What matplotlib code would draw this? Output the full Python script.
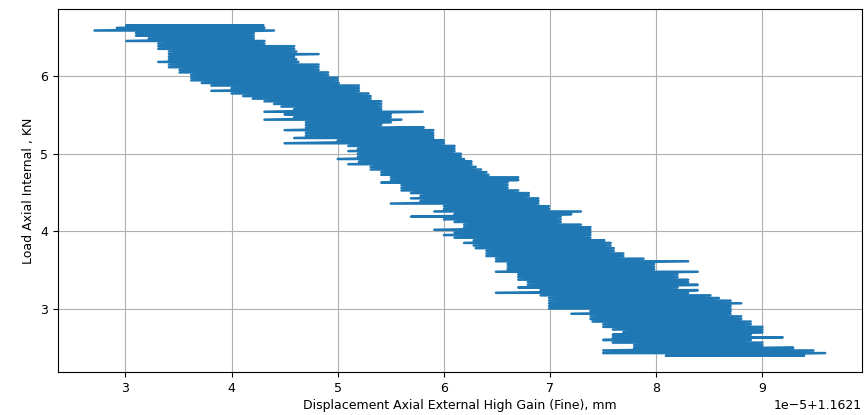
import numpy as np
import matplotlib
matplotlib.use("Agg")
import matplotlib.pyplot as plt

# load levels (kN), top to bottom, and the left/right displacement reached on each level
# displacement given in units of 1e-5 mm above 1.1621 mm
load = [6.654, 6.620, 6.586, 6.553, 6.519, 6.485, 6.451, 6.417, 6.384, 6.350,
        6.316, 6.282, 6.248, 6.215, 6.181, 6.147, 6.113, 6.079, 6.046, 6.012,
        5.978, 5.944, 5.910, 5.877, 5.843, 5.809, 5.775, 5.741, 5.708, 5.674,
        5.640, 5.606, 5.572, 5.539, 5.505, 5.471, 5.437, 5.403, 5.370, 5.336,
        5.302, 5.268, 5.234, 5.201, 5.167, 5.133, 5.099, 5.065, 5.032, 4.998,
        4.964, 4.930, 4.896, 4.863, 4.829, 4.795, 4.761, 4.727, 4.694, 4.660,
        4.626, 4.592, 4.558, 4.525, 4.491, 4.457, 4.423, 4.389, 4.356, 4.322,
        4.288, 4.254, 4.220, 4.187, 4.153, 4.119, 4.085, 4.051, 4.018, 3.984,
        3.950, 3.916, 3.882, 3.849, 3.815, 3.781, 3.747, 3.713, 3.680, 3.646,
        3.612, 3.578, 3.544, 3.511, 3.477, 3.443, 3.409, 3.375, 3.342, 3.308,
        3.274, 3.240, 3.206, 3.173, 3.139, 3.105, 3.071, 3.037, 3.004, 2.970,
        2.936, 2.902, 2.868, 2.835, 2.801, 2.767, 2.733, 2.699, 2.666, 2.632,
        2.598, 2.564, 2.530, 2.497, 2.463, 2.429, 2.395]

disp_left = [3.01, 2.92, 2.71, 3.10, 3.10, 3.22, 3.01, 3.31, 3.31, 3.31,
             3.41, 3.41, 3.41, 3.41, 3.31, 3.41, 3.41, 3.51, 3.51, 3.62,
             3.62, 3.62, 3.72, 3.81, 4.00, 3.81, 4.00, 4.11, 4.20, 4.31,
             4.40, 4.47, 4.59, 4.31, 4.50, 4.59, 4.31, 4.70, 4.70, 4.70,
             4.50, 4.70, 4.70, 4.59, 5.00, 4.50, 5.10, 5.19, 5.10, 5.19,
             5.19, 5.00, 5.20, 5.10, 5.31, 5.31, 5.41, 5.41, 5.50, 5.50,
             5.41, 5.60, 5.60, 5.60, 5.69, 5.78, 5.69, 5.78, 5.50, 6.00,
             6.00, 5.91, 6.10, 5.69, 6.00, 6.10, 6.19, 6.19, 5.91, 6.10,
             6.00, 6.10, 6.28, 6.19, 6.28, 6.30, 6.40, 6.40, 6.40, 6.49,
             6.49, 6.60, 6.60, 6.60, 6.49, 6.70, 6.70, 6.70, 6.79, 6.79,
             6.70, 6.91, 6.49, 6.91, 6.99, 6.99, 6.99, 6.99, 6.99, 7.38,
             7.20, 7.38, 7.38, 7.40, 7.50, 7.50, 7.59, 7.69, 7.59, 7.59,
             7.50, 7.59, 7.79, 7.79, 7.50, 7.50, 8.09]

disp_right = [4.30, 4.31, 4.40, 4.21, 4.21, 4.21, 4.31, 4.31, 4.59, 4.59,
              4.61, 4.82, 4.59, 4.61, 4.63, 4.82, 4.82, 4.82, 4.91, 4.91,
              5.00, 5.00, 5.01, 5.20, 5.20, 5.20, 5.29, 5.31, 5.31, 5.41,
              5.41, 5.41, 5.41, 5.80, 5.50, 5.50, 5.60, 5.50, 5.41, 5.81,
              5.90, 5.90, 5.90, 5.90, 6.00, 6.00, 6.10, 6.10, 6.10, 6.16,
              6.16, 6.19, 6.26, 6.26, 6.30, 6.35, 6.40, 6.42, 6.70, 6.70,
              6.60, 6.60, 6.60, 6.70, 6.80, 6.80, 6.89, 6.89, 6.89, 6.99,
              6.99, 7.29, 7.20, 7.10, 7.10, 7.10, 7.29, 7.38, 7.38, 7.38,
              7.38, 7.38, 7.51, 7.57, 7.57, 7.60, 7.60, 7.69, 7.69, 7.88,
              8.30, 7.98, 7.98, 7.98, 8.39, 8.20, 8.20, 8.30, 8.30, 8.39,
              8.20, 8.39, 8.30, 8.51, 8.59, 8.70, 8.80, 8.70, 8.70, 8.70,
              8.70, 8.80, 8.80, 8.89, 8.89, 9.00, 9.00, 9.00, 8.89, 9.19,
              8.89, 9.00, 9.00, 9.29, 9.48, 9.59, 9.39]

OFFSET = 1.1621

plt.rcParams["font.size"] = 9

# walk each load level left to right, then on to the next level
xs, ys = [], []
for y, a, b in zip(load, disp_left, disp_right):
    xs += [a, b]
    ys += [y, y]
x = OFFSET + np.array(xs) * 1e-5
y = np.array(ys)

fig = plt.figure(figsize=(8.66, 4.15), dpi=100)
ax = fig.add_axes([0.067, 0.103, 0.928, 0.876])
ax.plot(x, y, linewidth=1.8, color="#1f77b4")
ax.set_xlabel("Displacement Axial External High Gain (Fine), mm", labelpad=3)
ax.set_ylabel("Load Axial Internal , KN")
ax.grid(True)
fig.savefig("out.png", dpi=100)
